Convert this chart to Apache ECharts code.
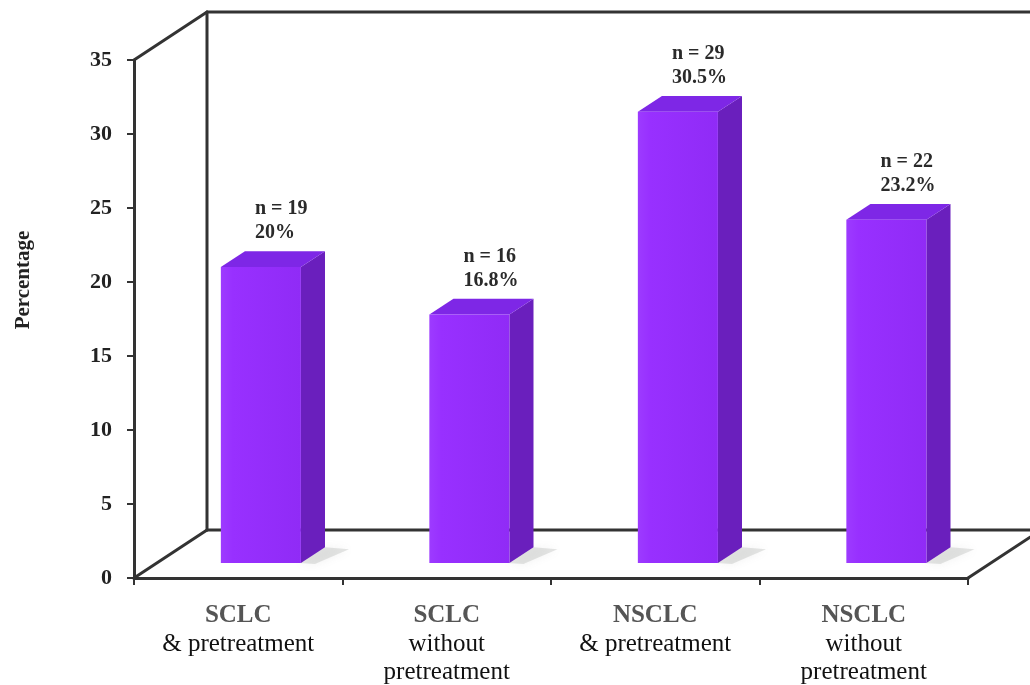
<!DOCTYPE html>
<html>
<head>
<meta charset="utf-8">
<script src="https://cdn.jsdelivr.net/npm/echarts@6/dist/echarts.min.js"></script>
<style>
  html, body { margin: 0; padding: 0; background: #fff; }
  #chart { width: 1030px; height: 685px; }
</style>
</head>
<body>
<div id="chart"></div>
<script>
// Patient groups, share of patients (%) and group sizes
const categories = [
  'SCLC\n& pretreatment',
  'SCLC\nwithout\npretreatment',
  'NSCLC\n& pretreatment',
  'NSCLC\nwithout\npretreatment'
];
const percentages = [20, 16.8, 30.5, 23.2];
const counts = [19, 16, 29, 22];
const yTicks = { min: 0, max: 35, interval: 5 };

// Perspective depth of the box (pixels) and bar placement inside that depth
const DEPTH = [73, -48];
const BAR_FRONT = 0.31;
const BAR_BACK = 0.64;

const SERIF = '"Liberation Serif", "DejaVu Serif", serif';
const LINE = '#333';

const chart = echarts.init(document.getElementById('chart'));

function wallsItem(params, api) {
  const band = api.size([1, 0])[0];
  const L = api.coord([0, yTicks.min])[0] - band / 2;
  const R = api.coord([categories.length - 1, yTicks.min])[0] + band / 2;
  const y0 = api.coord([0, yTicks.min])[1];
  const yT = api.coord([0, yTicks.max])[1];
  const dx = DEPTH[0], dy = DEPTH[1];
  const seg = (x1, y1, x2, y2) => ({
    type: 'line',
    shape: { x1, y1, x2, y2 },
    style: { stroke: LINE, lineWidth: 3, lineCap: 'round' }
  });
  return {
    type: 'group',
    children: [
      seg(L + dx, yT + dy, R + dx, yT + dy),
      seg(L + dx, yT + dy, L + dx, y0 + dy),
      seg(L + dx, y0 + dy, R + dx, y0 + dy),
      seg(R + dx, y0 + dy, R + dx, yT + dy),
      seg(L, yT, L + dx, yT + dy),
      seg(L, y0, L + dx, y0 + dy),
      seg(R, y0, R + dx, y0 + dy)
    ]
  };
}

function barItem(params, api) {
  const idx = api.value(0);
  const val = api.value(1);
  const base = api.coord([idx, 0]);
  const topY = api.coord([idx, val])[1];
  const band = api.size([1, 0])[0];
  const halfW = band * 0.192;
  const fx = DEPTH[0] * BAR_FRONT, fy = DEPTH[1] * BAR_FRONT;
  const ddx = DEPTH[0] * (BAR_BACK - BAR_FRONT);
  const ddy = DEPTH[1] * (BAR_BACK - BAR_FRONT);

  const xl = base[0] + fx - halfW;
  const xr = base[0] + fx + halfW;
  const yb = base[1] + fy;
  const yt = topY + fy;

  const shadow = {
    type: 'polygon',
    shape: { points: [[xr - 2, yb], [xr + ddx, yb + ddy], [xr + ddx + 24, yb + ddy + 2], [xr + 14, yb + 1]] },
    style: { fill: 'rgba(135,140,135,0.22)', shadowBlur: 8, shadowColor: 'rgba(135,140,135,0.5)' }
  };
  const front = {
    type: 'rect',
    shape: { x: xl, y: yt, width: xr - xl, height: yb - yt },
    style: {
      fill: new echarts.graphic.LinearGradient(0, 0, 1, 0, [
        { offset: 0, color: '#9d3bff' },
        { offset: 0.15, color: '#9830ff' },
        { offset: 1, color: '#902bf6' }
      ])
    }
  };
  const side = {
    type: 'polygon',
    shape: { points: [[xr, yb], [xr + ddx, yb + ddy], [xr + ddx, yt + ddy], [xr, yt]] },
    style: { fill: '#6a1fbd' }
  };
  const top = {
    type: 'polygon',
    shape: { points: [[xl, yt], [xr, yt], [xr + ddx, yt + ddy], [xl + ddx, yt + ddy]] },
    style: { fill: '#7e27e6' }
  };
  const label = {
    type: 'text',
    x: xl + ddx + 10,
    y: yt + ddy - 6,
    style: {
      text: 'n = ' + counts[idx] + '\n' + val + '%',
      font: 'bold 20px ' + SERIF,
      fill: '#2a2a2a',
      align: 'left',
      verticalAlign: 'bottom',
      lineHeight: 24
    }
  };
  return { type: 'group', children: [shadow, side, top, front, label] };
}

chart.setOption({
  backgroundColor: '#fff',
  animation: false,
  grid: { left: 134, right: 62, top: 60, bottom: 107 },
  xAxis: {
    type: 'category',
    data: categories,
    axisLine: { lineStyle: { color: LINE, width: 3 } },
    axisTick: { show: true, length: 7, lineStyle: { color: LINE, width: 2 } },
    axisLabel: {
      margin: 24,
      interval: 0,
      formatter: function (v) {
        const parts = v.split('\n');
        return '{h|' + parts[0] + '}\n' + parts.slice(1).map(p => '{t|' + p + '}').join('\n');
      },
      rich: {
        h: { fontFamily: SERIF, fontSize: 25, fontWeight: 'bold', color: '#555', lineHeight: 28 },
        t: { fontFamily: SERIF, fontSize: 25, color: '#111', lineHeight: 28 }
      }
    },
    splitLine: { show: false }
  },
  yAxis: {
    type: 'value',
    min: yTicks.min,
    max: yTicks.max,
    interval: yTicks.interval,
    axisLine: { show: true, lineStyle: { color: LINE, width: 3 } },
    axisTick: { show: true, length: 7, lineStyle: { color: LINE, width: 2 } },
    axisLabel: {
      margin: 22,
      fontFamily: SERIF,
      fontSize: 22,
      fontWeight: 'bold',
      color: '#222'
    },
    splitLine: { show: false }
  },
  graphic: [{
    type: 'text',
    x: 24,
    y: 280,
    rotation: Math.PI / 2,
    style: {
      text: 'Percentage',
      font: 'bold 21px ' + SERIF,
      fill: '#222',
      align: 'center',
      verticalAlign: 'middle'
    }
  }],
  series: [
    {
      type: 'custom',
      renderItem: wallsItem,
      data: [[0, 0]],
      silent: true,
      z: 1
    },
    {
      type: 'custom',
      renderItem: barItem,
      data: percentages.map((v, i) => [i, v]),
      silent: true,
      z: 3
    }
  ]
});
</script>
</body>
</html>
